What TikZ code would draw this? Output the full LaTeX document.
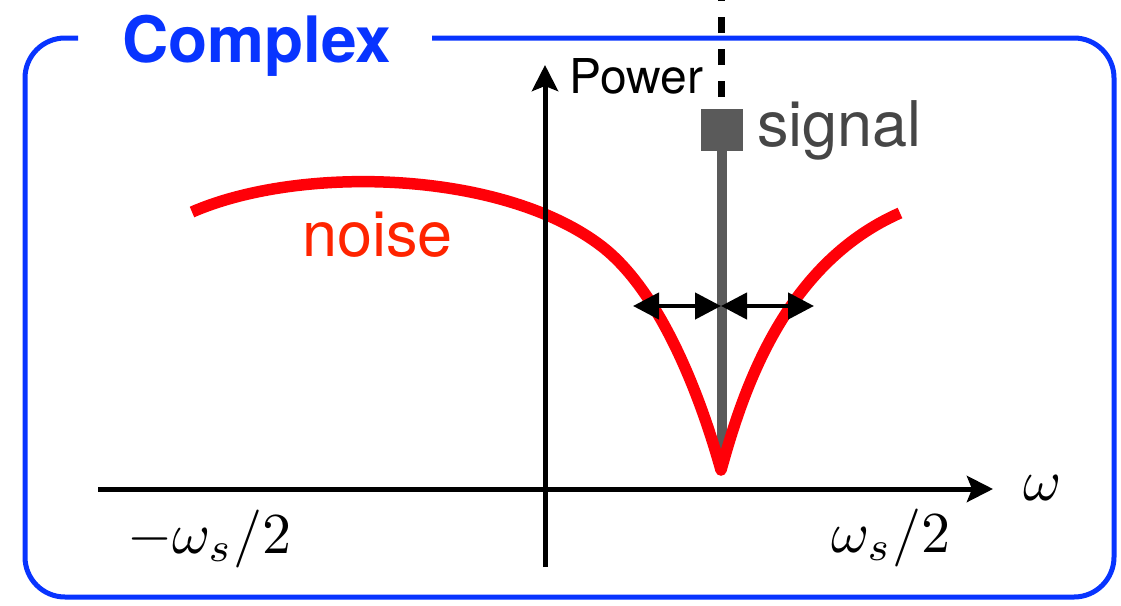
\documentclass[tikz,border=0pt]{standalone}
\usepackage{fontspec}
\setmainfont{TeX Gyre Heros}
\usetikzlibrary{arrows.meta}
\usetikzlibrary{positioning}

\definecolor{frameblue}{RGB}{8,52,255}
\definecolor{sigray}{RGB}{90,90,90}
\definecolor{txtgray}{RGB}{70,70,70}
\definecolor{noisered}{RGB}{255,0,8}
\definecolor{noisetxt}{RGB}{255,36,0}

\tikzset{
  axis/.style={line width=5pt, -{Stealth[length=26pt,width=26pt,inset=5pt]}},
  span/.style={line width=4.5pt, {Triangle[length=26pt,width=26pt]}-{Triangle[length=26pt,width=26pt]}},
  bigtext/.style={font=\fontsize{63}{70}\selectfont, inner sep=0pt},
  mathlbl/.style={scale=5.8, inner sep=0pt, anchor=base west}
}

\begin{document}
\begin{tikzpicture}[x=1pt, y=-1pt]
\useasboundingbox (0,0) rectangle (1121,605);

\draw[frameblue, line width=5pt, rounded corners=40pt] (78,38) -- (25,38) -- (25,597) -- (1114,597) -- (1114,38) -- (432,38);
\node[font=\bfseries\fontsize{64}{70}\selectfont, text=frameblue, anchor=base west, inner sep=0pt] (title) at (122,62) {Complex};

\node[fill=sigray, minimum size=42pt, inner sep=0pt] (sq) at (722,130) {};
\coordinate (stembot) at (722,455);
\draw[sigray, line width=10pt] (sq.south) -- (stembot);
\node[bigtext, text=txtgray, right=14pt of sq] (sig) {signal};

\draw[noisered, line width=11.5pt, line join=round] (192,212) .. controls (300,165) and (500,170) .. (600,245)
  .. controls (660,290) and (700,395) .. (721,470)
  .. controls (742,395) and (782,265) .. (900,213);
\node[bigtext, text=noisetxt, anchor=base west] (noise) at (302,256) {noise};

\coordinate (xstart) at (98,489);
\coordinate (xend) at (993,489);
\coordinate (ystart) at (545,567);
\coordinate (yend) at (545,65);
\draw[axis] (xstart) -- (xend);
\draw[axis] (ystart) -- (yend);
\node[font=\fontsize{48}{50}\selectfont, anchor=base west, inner sep=0pt] (power) at (569,93) {Power};
\node[mathlbl] (om) at (1022,500) {$\omega$};
\node[mathlbl] (left) at (126,553) {$-\omega_s/2$};
\node[mathlbl] (right) at (830,552) {$\omega_s/2$};

\coordinate (mid) at (721,306);
\coordinate (lo) at (633,306);
\coordinate (hi) at (814,306);
\draw[span] (lo) -- (mid);
\draw[span] (mid) -- (hi);

\coordinate (dtop) at (721,0);
\coordinate (dbot) at (721,97);
\draw[line width=7pt, dash pattern=on 16pt off 16pt] (dbot) -- (dtop);
\end{tikzpicture}
\end{document}
